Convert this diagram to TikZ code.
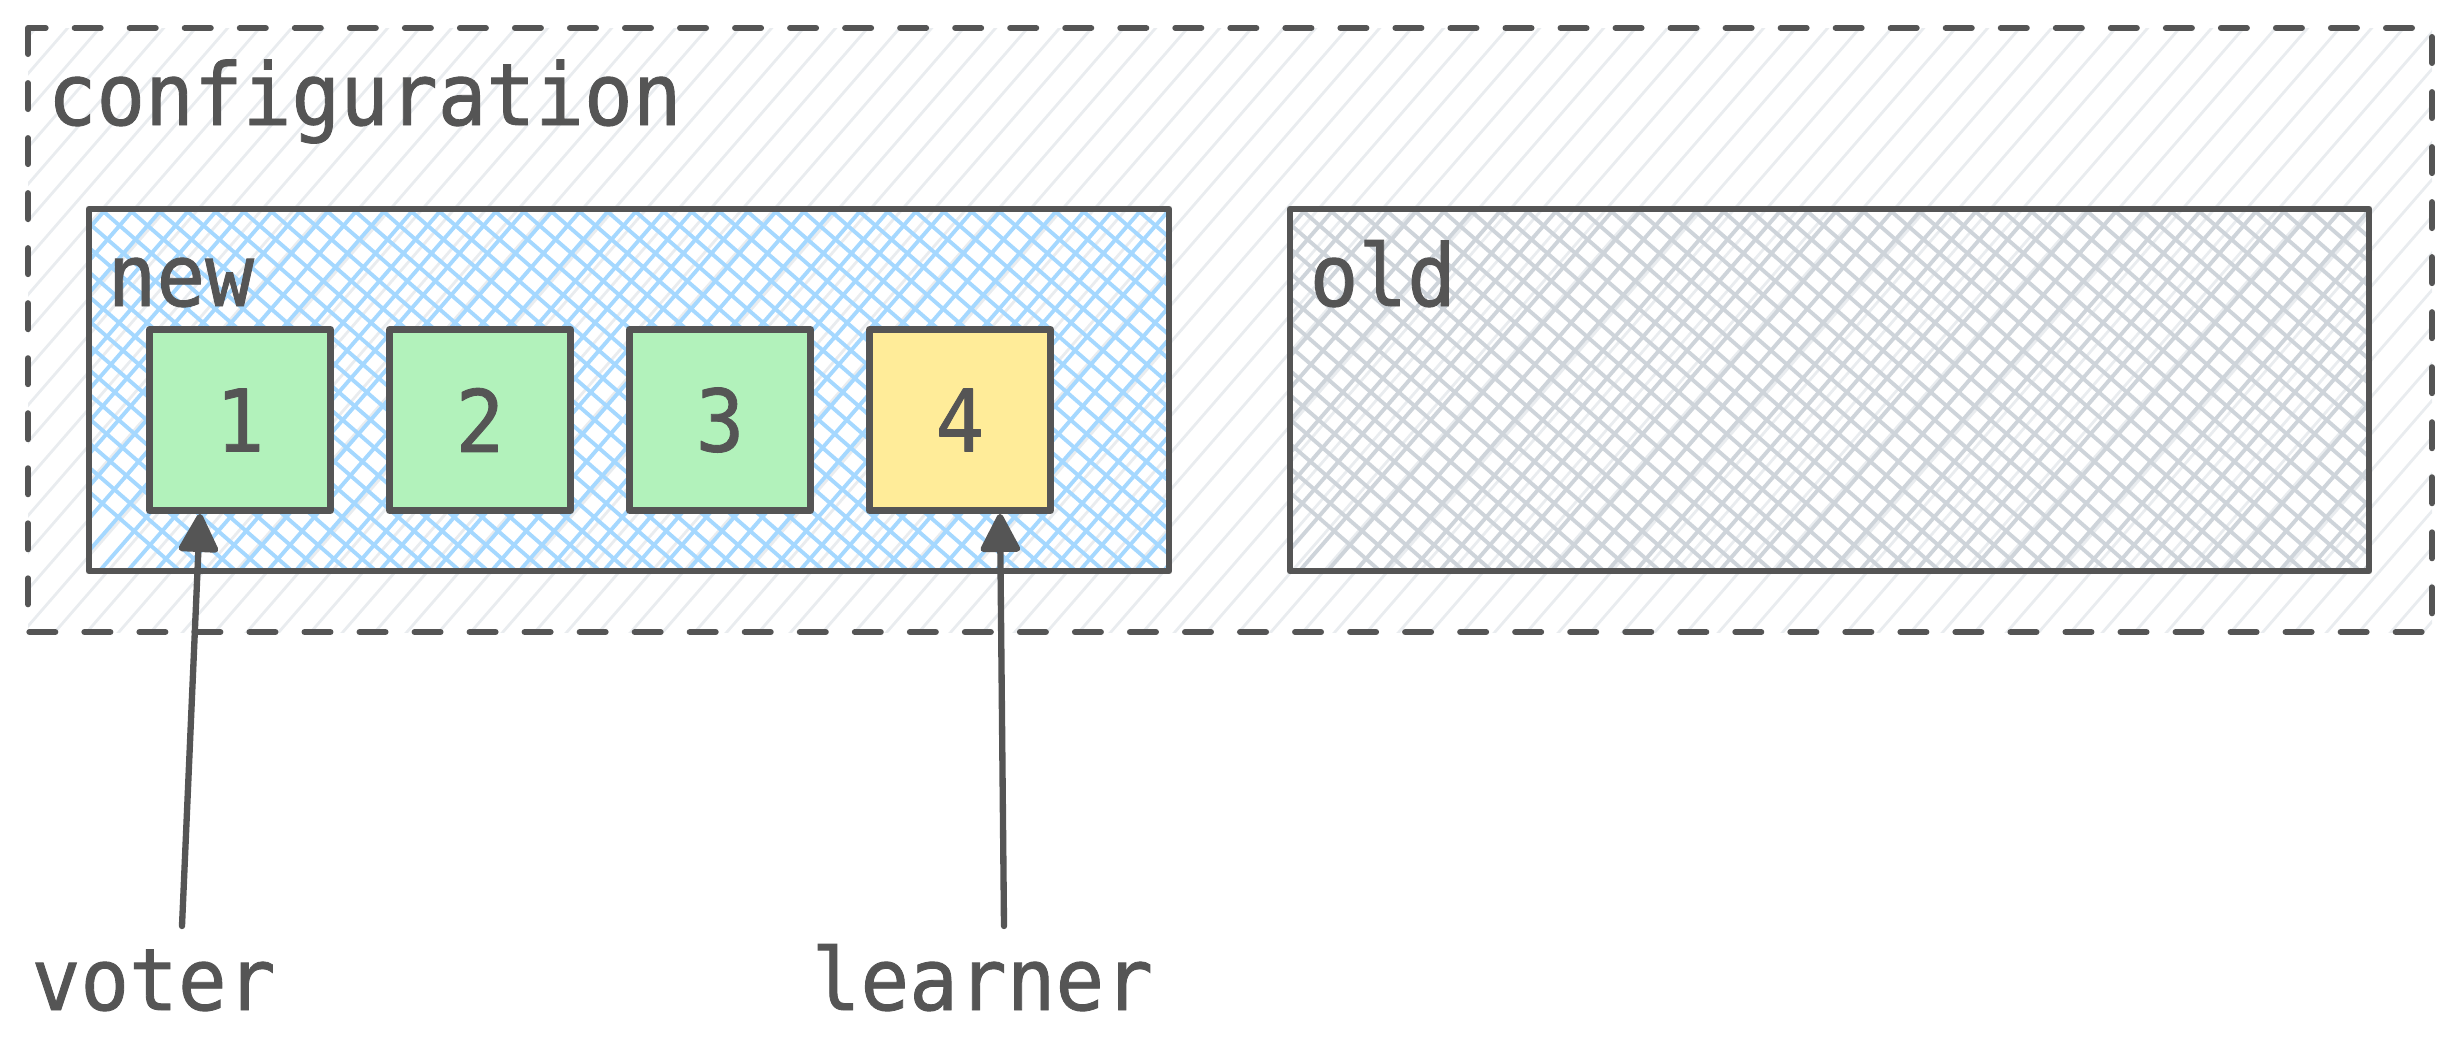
\documentclass[tikz,border=0pt]{standalone}
\usepackage{fontspec}
\setmonofont[FakeStretch=0.94, FakeBold=1]{DejaVu Sans Mono}
\usetikzlibrary{arrows.meta}

\definecolor{ink}{HTML}{555555}
\definecolor{greenfill}{HTML}{B2F2BB}
\definecolor{yellowfill}{HTML}{FFEC99}
\definecolor{bluehatch}{HTML}{A5D8FF}
\definecolor{grayhatch}{HTML}{CED4DA}
\definecolor{lighthatch}{HTML}{E9ECEF}

\tikzset{
  label/.style={font=\ttfamily\fontsize{24.5}{29}\selectfont, text=ink, inner sep=0pt, anchor=base west},
  member/.style={draw=ink, line width=1.9pt, line join=round, minimum size=1.81cm, inner sep=0pt,
    font=\ttfamily\fontsize{24.5}{29}\selectfont, text=ink},
  group/.style={draw=ink, line width=1.9pt, line join=round},
  pointer/.style={draw=ink, line width=1.8pt, line cap=round, -{Triangle[length=0.42cm, width=0.42cm, round]}},
}

\begin{document}
\begin{tikzpicture}[x=0.01cm, y=-0.01cm]
		\useasboundingbox (0,0) rectangle (2460,1060);
		
		% configuration
		\begin{scope}
			\clip (28,28) rectangle (2432,632);
			\foreach \x in {-560,-528,...,2440}
				\draw[lighthatch, line width=0.8pt] (\x,640) -- ++(556,-640);
		\end{scope}
		\draw[ink, line width=1.7pt, line cap=round, dash pattern=on 0.26cm off 0.29cm] (28,28) rectangle (2432,632);
		\node[label] (config) at (47,125) {configuration};
		
		% new and old
		\begin{scope}
			\clip (89,209) rectangle (1169,571);
			\foreach \x in {-240,-212,...,1180} {
				\draw[bluehatch, line width=1.1pt] (\x,575) -- ++(318,-366);
				\draw[bluehatch, line width=1.1pt] (\x,205) -- ++(420,366);
			}
		\end{scope}
		\begin{scope}
			\clip (1290,209) rectangle (2369,571);
			\foreach \x in {960,988,...,2380} {
				\draw[grayhatch, line width=1.1pt] (\x,575) -- ++(318,-366);
				\draw[grayhatch, line width=1.1pt] (\x,205) -- ++(420,366);
			}
		\end{scope}
		\draw[group] (89,209) rectangle (1169,571);
		\draw[group] (1290,209) rectangle (2369,571);
		\node[label] (new) at (107,306) {new};
		\node[label] (old) at (1309,306) {old};
		
		\node[member, fill=greenfill] (n1) at (240,420) {1};
		\node[member, fill=greenfill] (n2) at (480,420) {2};
		\node[member, fill=greenfill] (n3) at (720,420) {3};
		\node[member, fill=yellowfill] (n4) at (960,420) {4};
		
		% roles
		\node[label] (voter) at (31,1010) {voter};
		\node[label] (learner) at (811,1010) {learner};
		\coordinate (voterfrom) at (182,926);
		\coordinate (learnerfrom) at (1004,926);
		\draw[pointer] (voterfrom) -- ([xshift=-0.4cm]n1.south);
		\draw[pointer] (learnerfrom) -- ([xshift=0.4cm]n4.south);
\end{tikzpicture}
\end{document}
